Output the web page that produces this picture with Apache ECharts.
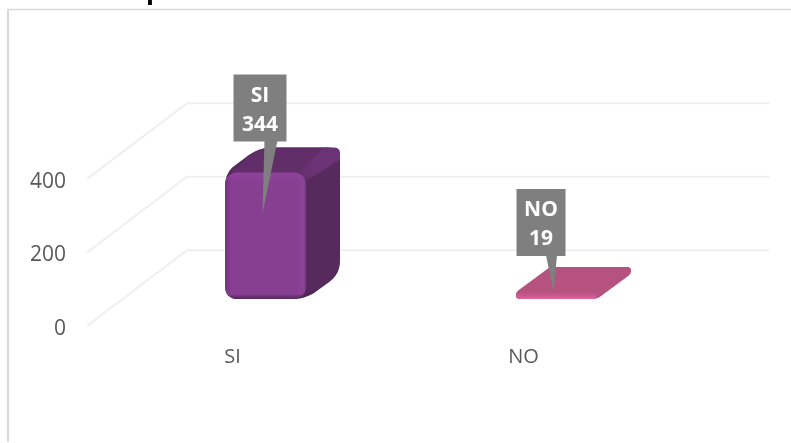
<!DOCTYPE html>
<html><head><meta charset="utf-8">
<style>html,body{margin:0;padding:0;background:#fff}#c{width:791px;height:443px}</style>
<script src="https://cdn.jsdelivr.net/npm/echarts@6/dist/echarts.min.js"></script>
</head><body><div id="c"></div>
<script>
const categories = ['SI', 'NO'];
const values = [344, 19];
const yTicks = [0, 200, 400];

const FONT = '"Open Sans", "Noto Sans", sans-serif';
const palettes = [
  { side: '#562a5c', top: '#622e69', band: '#6c3276', front: ['#8e439a', '#873f92', '#873f92', '#532759'] },
  { side: '#b5527f', top: '#b5527f', band: '#b5527f', front: ['#b5527f', '#b5527f', '#c8588c', '#e0649d'] }
];
const callouts = [
  { box: [-32, -98, 53, 67], base: [-1, 13], tip: [-3, 41] },
  { box: [-40, -103, 49, 67], base: [-10.5, 11], tip: [-3, 1] }
];
const wall = { dx: 100, dy: 75.7 };
const bar = { shiftX: 33, shiftY: 27, halfW: 40.5, dx: 34, dy: 25 };

function roundPoly(pts, radii) {
  const out = [], n = pts.length;
  for (let i = 0; i < n; i++) {
    const p = pts[i], a = pts[(i + n - 1) % n], b = pts[(i + 1) % n];
    const la = Math.hypot(a[0] - p[0], a[1] - p[1]), lb = Math.hypot(b[0] - p[0], b[1] - p[1]);
    const r = Math.min(radii[i], la / 2, lb / 2);
    const s = [p[0] + (a[0] - p[0]) * r / la, p[1] + (a[1] - p[1]) * r / la];
    const e = [p[0] + (b[0] - p[0]) * r / lb, p[1] + (b[1] - p[1]) * r / lb];
    for (let k = 0; k <= 6; k++) {
      const t = k / 6, u = 1 - t;
      out.push([u * u * s[0] + 2 * u * t * p[0] + t * t * e[0], u * u * s[1] + 2 * u * t * p[1] + t * t * e[1]]);
    }
  }
  return out;
}

function renderWall(params, api) {
  const cs = params.coordSys;
  const y = api.coord([0, api.value(0)])[1];
  const x0 = cs.x, x1 = cs.x + cs.width;
  return {
    type: 'polyline',
    shape: { points: [[x0, y], [x0 + wall.dx, y - wall.dy], [x1 + wall.dx, y - wall.dy]] },
    style: { stroke: '#efefef', lineWidth: 2, fill: null }
  };
}

function renderBar(params, api) {
  const i = api.value(0), pal = palettes[i];
  const c0 = api.coord([i, 0]), c1 = api.coord([i, api.value(1)]);
  const cx = c0[0] + bar.shiftX;
  const bot = c0[1] - bar.shiftY, top = c1[1] - bar.shiftY;
  const x0 = cx - bar.halfW, x1 = cx + bar.halfW, h = bot - top;
  const dx = bar.dx, dy = bar.dy, tall = h > 30, R = tall ? 13 : 5;
  const kids = [];
  kids.push({ type: 'polygon', shape: { points: roundPoly(
    [[x0, bot], [x1, bot], [x1 + dx, bot - dy], [x1 + dx, top - dy], [x0 + dx, top - dy], [x0, top]],
    [R, R, R, R, R, R]) }, style: { fill: {
      type: 'linear', x: 0, y: 0, x2: 0, y2: 1,
      colorStops: [{ offset: 0, color: pal.side }, { offset: 0.93, color: pal.side }, { offset: 1, color: tall ? '#47234d' : pal.side }] } } });
  kids.push({ type: 'polygon', shape: { points: roundPoly(
    [[x0, top + 6], [x0 + dx, top - dy], [x1 + dx, top - dy], [x1, top + 6]],
    [R, R, R, 0]) }, style: { fill: pal.top } });
  if (tall) {
    kids.push({ type: 'polygon', shape: { points: roundPoly(
      [[x1 - 8, top], [x1 + dx - 16, top - dy], [x1 + dx, top - dy], [x1 + dx, top - dy + 12], [x1 + 1, top + 8]],
      [0, 0, R, 0, 0]) }, style: { fill: {
        type: 'linear', x: 0, y: 1, x2: 1, y2: 0,
        colorStops: [{ offset: 0, color: pal.top }, { offset: 0.45, color: pal.band }, { offset: 1, color: pal.band }] } } });
  }
  kids.push({ type: 'rect', shape: { x: x0, y: top, width: x1 - x0, height: h, r: tall ? 12 : h / 2 },
    style: { fill: { type: 'linear', x: 0, y: 0, x2: 0, y2: 1, colorStops: tall ? [
      { offset: 0, color: pal.front[0] }, { offset: 0.08, color: pal.front[1] },
      { offset: 0.96, color: pal.front[2] }, { offset: 1, color: pal.front[3] }] : [
      { offset: 0, color: pal.front[1] }, { offset: 0.5, color: pal.front[2] }, { offset: 1, color: pal.front[3] }] } } });
  if (tall) {
    kids.push({ type: 'rect', shape: { x: x0, y: top + 2, width: x1 - x0, height: h - 5, r: 12 },
      style: { fill: { type: 'linear', x: 0, y: 0, x2: 1, y2: 0, colorStops: [
        { offset: 0, color: 'rgba(70,30,80,0.3)' }, { offset: 0.08, color: 'rgba(70,30,80,0)' },
        { offset: 0.88, color: 'rgba(160,80,175,0)' }, { offset: 0.97, color: 'rgba(160,80,175,0.2)' },
        { offset: 1, color: 'rgba(70,30,80,0.3)' }] } } });
  }
  return { type: 'group', children: kids };
}

function renderCallout(params, api) {
  const i = api.value(0), c = callouts[i];
  const c0 = api.coord([i, 0]), c1 = api.coord([i, api.value(1)]);
  const ax = c0[0] + bar.shiftX, ay = c1[1] - bar.shiftY;
  const bx = ax + c.box[0], by = ay + c.box[1], bw = c.box[2], bh = c.box[3];
  const baseL = ax + c.base[0], baseR = baseL + c.base[1];
  return { type: 'group', children: [
    { type: 'rect', shape: { x: bx, y: by, width: bw, height: bh }, style: { fill: '#7f7f7f' } },
    { type: 'polygon', shape: { points: [[baseL, by + bh - 1], [baseR, by + bh - 1], [ax + c.tip[0], ay + c.tip[1]]] }, style: { fill: '#7f7f7f' } },
    { type: 'text', x: bx + bw / 2, y: by + 21, style: { text: categories[i], fill: '#fff', font: 'bold 21px ' + FONT, align: 'center', verticalAlign: 'middle' } },
    { type: 'text', x: bx + bw / 2, y: by + 50, style: { text: String(values[i]), fill: '#fff', font: 'bold 21px ' + FONT, align: 'center', verticalAlign: 'middle' } }
  ] };
}

const points = values.map((v, i) => [i, v]);
const chart = echarts.init(document.getElementById('c'), null, { renderer: 'canvas' });
chart.setOption({
  animation: false,
  backgroundColor: '#fff',
  title: { text: 'p', left: 146, top: -21, padding: 0, textStyle: { fontFamily: FONT, fontWeight: 'bold', fontSize: 26, color: '#000' } },
  grid: { left: 87, width: 582, top: 179, height: 147, containLabel: false },
  xAxis: { type: 'category', data: categories, axisLine: { show: false }, axisTick: { show: false }, splitLine: { show: false },
    axisLabel: { fontFamily: FONT, fontSize: 20, color: '#595959', margin: 21 } },
  yAxis: { type: 'value', min: yTicks[0], max: yTicks[yTicks.length - 1], interval: yTicks[1] - yTicks[0],
    axisLine: { show: false }, axisTick: { show: false }, splitLine: { show: false },
    axisLabel: { fontFamily: FONT, fontSize: 21, color: '#595959', margin: 21, verticalAlign: 'top', lineHeight: 6 } },
  graphic: [
    { type: 'line', silent: true, shape: { x1: 8, y1: 9.5, x2: 8, y2: 442 }, style: { stroke: '#d9d9d9', lineWidth: 2 } },
    { type: 'line', silent: true, shape: { x1: 7, y1: 9.5, x2: 791, y2: 9.5 }, style: { stroke: '#d9d9d9', lineWidth: 1.5 } }
  ],
  series: [
    { type: 'custom', name: 'walls', z: 1, silent: true, clip: false, data: yTicks.map(t => [t]), encode: { y: 0 }, renderItem: renderWall },
    { type: 'custom', name: 'bars', z: 2, silent: true, clip: false, data: points, encode: { x: 0, y: 1 }, renderItem: renderBar },
    { type: 'custom', name: 'callouts', z: 3, silent: true, clip: false, data: points, encode: { x: 0, y: 1 }, renderItem: renderCallout }
  ]
});
</script></body></html>
